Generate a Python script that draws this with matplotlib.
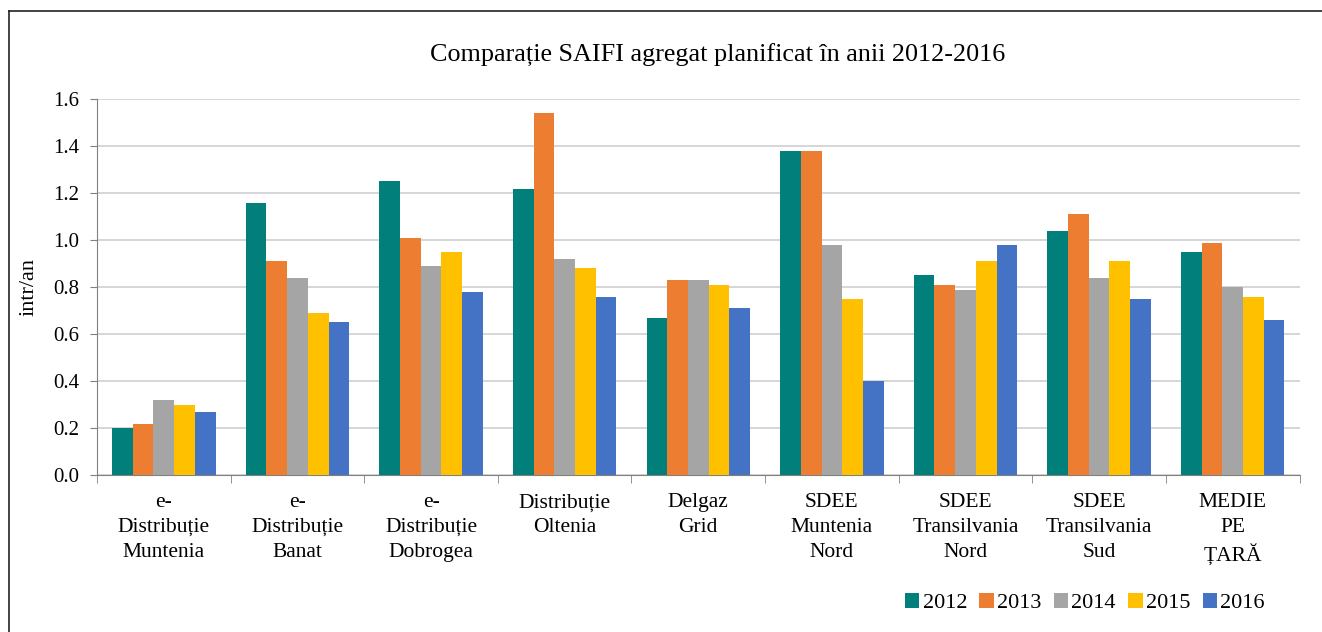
# SAIFI planned, aggregated, 2012-2016 by distribution operator
import numpy as np
import matplotlib.pyplot as plt
from matplotlib.lines import Line2D

plt.rcParams['font.family'] = ['Liberation Serif', 'DejaVu Serif']

categories = ['e-\nDistribuție\nMuntenia', 'e-\nDistribuție\nBanat', 'e-\nDistribuție\nDobrogea',
              'Distribuție\nOltenia', 'Delgaz\nGrid', 'SDEE\nMuntenia\nNord',
              'SDEE\nTransilvania\nNord', 'SDEE\nTransilvania\nSud', 'MEDIE\nPE\nȚARĂ']
years = ['2012', '2013', '2014', '2015', '2016']
v2012 = [0.20, 1.16, 1.25, 1.22, 0.67, 1.38, 0.85, 1.04, 0.95]
v2013 = [0.22, 0.91, 1.01, 1.54, 0.83, 1.38, 0.81, 1.11, 0.99]
v2014 = [0.32, 0.84, 0.89, 0.92, 0.83, 0.98, 0.79, 0.84, 0.80]
v2015 = [0.30, 0.69, 0.95, 0.88, 0.81, 0.75, 0.91, 0.91, 0.76]
v2016 = [0.27, 0.65, 0.78, 0.76, 0.71, 0.40, 0.98, 0.75, 0.66]
colors = ['#007F7B', '#ED7D31', '#A5A5A5', '#FFC000', '#4472C4']

fig = plt.figure(figsize=(13.22, 6.32), dpi=100)
ax = fig.add_axes([0.0734, 0.248, 0.9096, 0.595])

x = np.arange(len(categories))
w = 0.155
series = [v2012, v2013, v2014, v2015, v2016]
for i, vals in enumerate(series):
    ax.bar(x + (i - 2) * w, vals, w, color=colors[i], label=years[i], zorder=3)

ax.set_xlim(-0.5, len(categories) - 0.5)
ax.set_ylim(0, 1.6)
yt = np.arange(0, 1.61, 0.2)
ax.set_yticks(yt)
ax.set_yticklabels([f'{t:.1f}' for t in yt], fontsize=15)
ax.set_xticks(x)
ax.set_xticklabels(categories, fontsize=15.5, linespacing=1.4)
ax.tick_params(axis='x', length=0, pad=13)
ax.set_xticks(np.arange(-0.5, len(categories)), minor=True)
ax.tick_params(axis='x', which='minor', length=6, color='#808080')
ax.tick_params(axis='y', length=5, color='#808080', pad=8)
ax.yaxis.grid(True, color='#D0D0D0', linewidth=1.2, zorder=0)
for s in ['top', 'right']:
    ax.spines[s].set_visible(False)
for s in ['left', 'bottom']:
    ax.spines[s].set_color('#808080')
ax.set_ylabel('intr/an', fontsize=16, labelpad=10)

fig.text(0.543, 0.912, 'Comparație SAIFI agregat planificat în anii 2012-2016',
         ha='center', va='center', fontsize=18.8)

fig.legend(loc='center right', bbox_to_anchor=(0.972, 0.046), ncol=5, frameon=False,
           fontsize=16, handlelength=0.65, handleheight=0.65, handletextpad=0.15,
           columnspacing=0.55)

# frame lines visible on the top and left edges of the original image
fig.lines.append(Line2D([0.007, 0.007], [0.0, 0.983], transform=fig.transFigure,
                        color='#222222', linewidth=1.2))
fig.lines.append(Line2D([0.007, 1.0], [0.983, 0.983], transform=fig.transFigure,
                        color='#222222', linewidth=1.2))

fig.savefig('out.png', dpi=100)
